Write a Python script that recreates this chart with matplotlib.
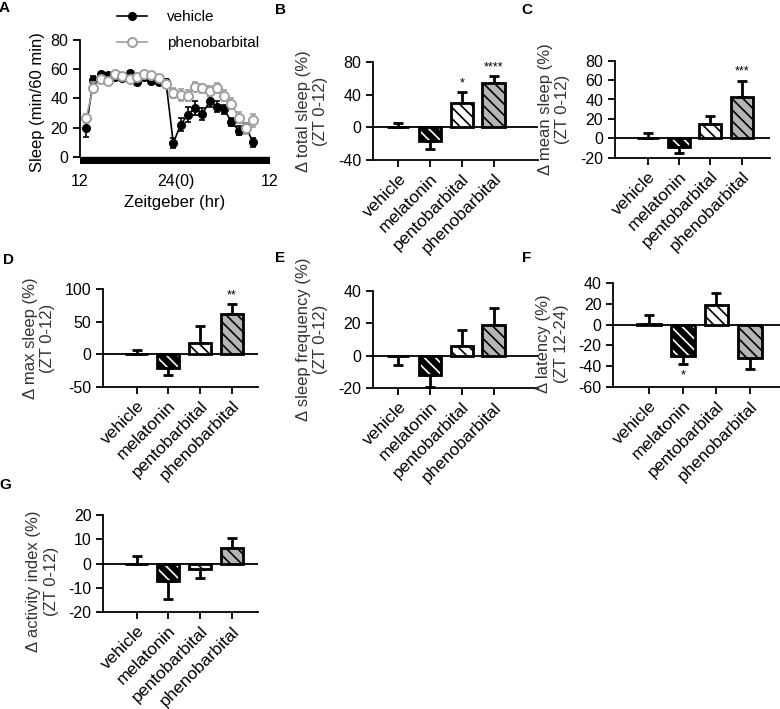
import numpy as np
import matplotlib.pyplot as plt
from matplotlib.lines import Line2D

plt.rcParams['font.family'] = ['Liberation Sans', 'DejaVu Sans']
plt.rcParams['hatch.linewidth'] = 1.2
plt.rcParams['axes.unicode_minus'] = False

W, H = 780, 709
FS = 11.5

# ---- panel A: hourly sleep, 24 bins starting at ZT12
bins = np.arange(24)
vehicle_sleep = [19.5, 52.5, 56.5, 56, 55, 54, 57.5, 51, 54.5, 52, 51.5, 51,
                 9.5, 22, 29, 33.5, 29.5, 38, 34.5, 32.5, 24, 18, 20, 10]
vehicle_err = [6, 3, 1.5, 1.5, 1.5, 1.5, 1.5, 2, 1.5, 2, 2, 2,
               3.5, 4.5, 5, 4.5, 4, 3.5, 4, 3, 3, 3, 3, 3]
pheno_sleep = [26.5, 47.5, 53, 52, 56.5, 55.5, 53.5, 54.5, 57, 56, 54, 50,
               44, 42.5, 42, 48, 47, 45, 47, 42, 36.5, 27, 19.5, 25]
pheno_err = [3, 4, 2, 2, 1.5, 1.5, 2, 1.5, 1.5, 1.5, 2, 2,
             3.5, 4, 4, 3, 3, 3.5, 3.5, 3.5, 4, 4, 4, 4.5]
zt_labels = ['12', '24(0)', '12']

# ---- panels B-G: % change vs vehicle
groups = ['vehicle', 'melatonin', 'pentobarbital', 'phenobarbital']
total_sleep = [0, -17, 30, 55]
total_sleep_err = [5.5, 9.5, 13.5, 8]
mean_sleep = [0, -8.5, 14.5, 43]
mean_sleep_err = [5, 7, 8, 16.5]
max_sleep = [0, -21.5, 17, 62]
max_sleep_err = [7, 10, 27, 15.5]
sleep_freq = [-0.3, -12, 6, 19]
sleep_freq_err = [5.5, 7, 10, 10.5]
latency = [0.5, -30.5, 19, -32]
latency_err = [8.5, 7, 11, 10.5]
activity = [0, -7, -2, 6.5]
activity_err = [3.2, 7.5, 3.8, 3.9]


def px_rect(l, r, t, b):
    return [l / W, 1 - b / H, (r - l) / W, (b - t) / H]


fig = plt.figure(figsize=(W / 100, H / 100), dpi=100)

# ---------------- A
ax = fig.add_axes(px_rect(80, 270, 40, 164.3))
ax.axhspan(-5, 0, color='black', zorder=1)
ax.errorbar(bins, vehicle_sleep, yerr=vehicle_err, fmt='none', ecolor='black',
            elinewidth=1.2, capsize=2.5, capthick=1.2, zorder=3)
ax.plot(bins, vehicle_sleep, '-o', color='black', lw=1.2, ms=5.5, zorder=3)
ax.errorbar(bins, pheno_sleep, yerr=pheno_err, fmt='none', ecolor='#a0a0a0',
            elinewidth=1.2, capsize=2.5, capthick=1.2, zorder=4)
ax.plot(bins, pheno_sleep, '-o', color='#a0a0a0', mfc='white', mec='#a0a0a0',
        mew=1.4, lw=1.2, ms=6.5, zorder=4)
ax.set_xlim(-0.83, 25.3)
ax.set_ylim(-5, 80)
ax.set_yticks([0, 20, 40, 60, 80])
ax.set_xticks([-0.83, 12.38, 25.3])
ax.set_xticklabels(zt_labels)
for s in ['top', 'right', 'bottom']:
    ax.spines[s].set_visible(False)
ax.spines['left'].set_linewidth(1.3)
ax.spines['left'].set_bounds(0, 80)
ax.tick_params(axis='y', labelsize=FS, width=1.3, length=5)
ax.tick_params(axis='x', labelsize=FS, length=0, pad=7)
ax.set_ylabel('Sleep (min/60 min)', fontsize=12, labelpad=4)
ax.set_xlabel('Zeitgeber (hr)', fontsize=12, labelpad=4)
handles = [Line2D([], [], color='black', marker='o', ms=5.5, lw=1.2),
           Line2D([], [], color='#a0a0a0', marker='o', ms=6.5, mfc='white',
                  mew=1.4, lw=1.2)]
ax.legend(handles, ['vehicle', 'phenobarbital'], loc='upper left',
          bbox_to_anchor=(117 / W, 1 - 10 / H), bbox_transform=fig.transFigure,
          frameon=False, fontsize=11, borderpad=0, borderaxespad=0,
          handlelength=1.95, handletextpad=1.3, labelspacing=0.8)

faces = ['white', 'black', 'white', '#b5b5b5']
hatch_cols = ['black', 'white', 'black', 'black']
hatches = ['', '\\\\\\', '\\\\\\', '\\\\\\']


def bar_panel(rect, xlim, ylim, yticks, vals, errs, ylabel, stars=None,
              label_y=0.5):
    ax = fig.add_axes(px_rect(*rect))
    x = np.arange(len(groups))
    ax.axhline(0, color='black', lw=1.3, zorder=1)
    for i in range(len(groups)):
        v, e = vals[i], errs[i]
        up = v >= 0
        ax.errorbar(x[i], v, yerr=[[0 if up else e], [e if up else 0]],
                    fmt='none', ecolor='black', elinewidth=2, capsize=3.5,
                    capthick=2, zorder=2)
        ax.bar(x[i], v, 0.7, color=faces[i], edgecolor=hatch_cols[i],
               hatch=hatches[i], lw=0, zorder=3)
        ax.bar(x[i], v, 0.7, fill=False, edgecolor='black', lw=2, zorder=4)
    if stars:
        for i, s in stars.items():
            v, e = vals[i], errs[i]
            span = ylim[1] - ylim[0]
            if v >= 0:
                ax.text(x[i], v + e + 0.03 * span, s, ha='center', va='bottom',
                        fontsize=9)
            else:
                ax.text(x[i], v - e - 0.05 * span, s, ha='center', va='top',
                        fontsize=9)
    ax.set_xlim(*xlim)
    ax.set_ylim(*ylim)
    ax.set_yticks(yticks)
    ax.set_xticks(x)
    ax.set_xticklabels(groups, rotation=45, ha='right', rotation_mode='anchor',
                       fontsize=12.5)
    for s in ['top', 'right']:
        ax.spines[s].set_visible(False)
    for s in ['left', 'bottom']:
        ax.spines[s].set_linewidth(1.3)
    ax.tick_params(axis='y', labelsize=FS, width=1.3, length=5)
    ax.tick_params(axis='x', width=1.3, length=5, pad=3)
    ax.set_ylabel(ylabel, fontsize=12, color='#333333', labelpad=7,
                  linespacing=1.2)
    ax.yaxis.label.set_y(label_y)
    return ax


bar_panel((373, 538, 62.3, 160), (-0.8, 4.4), (-40, 80), [-40, 0, 40, 80],
          total_sleep, total_sleep_err, '\u0394 total sleep (%)\n(ZT 0-12)',
          {2: '*', 3: '****'})
bar_panel((615, 770, 60.7, 157.7), (-1.04, 3.9), (-20, 80),
          [-20, 0, 20, 40, 60, 80], mean_sleep, mean_sleep_err,
          '\u0394 mean sleep (%)\n(ZT 0-12)', {3: '***'})
bar_panel((103.3, 258.3, 289.3, 387), (-1.05, 3.84), (-50, 100),
          [-50, 0, 50, 100], max_sleep, max_sleep_err,
          '\u0394 max sleep (%)\n(ZT 0-12)', {3: '**'})
bar_panel((373, 538, 291, 388.3), (-0.8, 4.4), (-20, 40), [-20, 0, 20, 40],
          sleep_freq, sleep_freq_err, '\u0394 sleep frequency (%)\n(ZT 0-12)')
bar_panel((613.3, 780, 282.7, 387.3), (-1.07, 3.89), (-60, 40),
          [-60, -40, -20, 0, 20, 40], latency, latency_err,
          '\u0394 latency (%)\n(ZT 12-24)', {1: '*'}, label_y=0.42)
bar_panel((103.3, 258.3, 515, 612.3), (-1.05, 3.84), (-20, 20),
          [-20, -10, 0, 10, 20], activity, activity_err,
          '\u0394 activity index (%)\n(ZT 0-12)', label_y=0.32)

for letter, (lx, ly) in {'A': (4, 8), 'B': (280, 10), 'C': (527, 10),
                         'D': (8, 260), 'E': (280, 258), 'F': (527, 258),
                         'G': (5, 485)}.items():
    fig.text(lx / W, 1 - ly / H, letter, fontsize=11, fontweight='bold',
             ha='center', va='center')

fig.savefig('out.png', dpi=100)
